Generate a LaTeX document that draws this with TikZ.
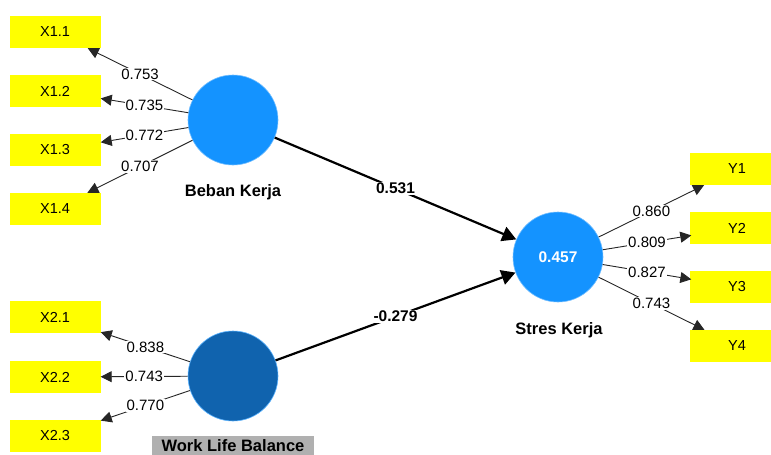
\documentclass[tikz,border=0pt]{standalone}
\usepackage{fontspec}
\setmainfont{Liberation Sans}
\usetikzlibrary{arrows.meta}
\definecolor{lv}{RGB}{20,147,255}
\definecolor{dv}{RGB}{16,99,174}
\definecolor{ybox}{RGB}{255,255,0}
\definecolor{gbox}{RGB}{176,176,176}
\tikzset{
  ind/.style={fill=ybox, draw=none, minimum width=91pt, minimum height=32pt, inner sep=0pt, font=\fontsize{14.5}{14.5}\selectfont},
  lvar/.style={circle, fill=lv, draw=lv!60, line width=0.6pt, minimum size=90pt, inner sep=0pt},
  dvar/.style={circle, fill=dv, draw=lv!70, line width=0.6pt, minimum size=90pt, inner sep=0pt},
  outer/.style={draw=black!85, line width=0.9pt, -{Triangle[length=11pt,width=11pt]}},
  inner/.style={draw=black, line width=2.2pt, -{Triangle[length=14pt,width=15pt]}},
  wlab/.style={fill=white, inner sep=1pt, font=\fontsize{15}{15}\selectfont},
  blab/.style={fill=white, inner sep=1pt, font=\fontsize{15.5}{15.5}\selectfont\bfseries},
  cname/.style={font=\fontsize{16.5}{16.5}\selectfont\bfseries}
}
\begin{document}
\begin{tikzpicture}[x=1pt,y=-1pt]
\useasboundingbox (0,0) rectangle (771,455);
% indicator boxes
\node[ind] (x11) at (55,32) {X1.1};
\node[ind] (x12) at (55,91) {X1.2};
\node[ind] (x13) at (55,150) {X1.3};
\node[ind] (x14) at (55,209) {X1.4};
\node[ind] (x21) at (55,317) {X2.1};
\node[ind] (x22) at (55,377) {X2.2};
\node[ind] (x23) at (55,436) {X2.3};
\fill[ybox] (690,153) rectangle (771,185);
\fill[ybox] (690,212) rectangle (771,244);
\fill[ybox] (690,271) rectangle (771,303);
\fill[ybox] (690,330) rectangle (771,362);
\node[ind] (y1) at (737,169) {Y1};
\node[ind] (y2) at (737,228) {Y2};
\node[ind] (y3) at (737,287) {Y3};
\node[ind] (y4) at (737,346) {Y4};
% latent variables
\node[lvar] (bk) at (233,120) {};
\node[dvar] (wlb) at (233,376) {};
\node[lvar] (sk) at (558,257) {\textcolor{white}{\fontsize{15.5}{15.5}\selectfont\bfseries 0.457}};
\node[cname] (bkl) at (233,192) {Beban Kerja};
\node[cname, fill=gbox, inner sep=0pt, minimum width=162pt, minimum height=21pt] (wlbl) at (233,446) {Work Life Balance};
\node[cname] (skl) at (559,330) {Stres Kerja};
% outer loadings
\draw[outer] (bk) -- node[wlab] {0.753} (x11);
\draw[outer] (bk) -- node[wlab] {0.735} (x12);
\draw[outer] (bk) -- node[wlab] {0.772} (x13);
\draw[outer] (bk) -- node[wlab] {0.707} (x14);
\draw[outer] (wlb) -- node[wlab] {0.838} (x21);
\draw[outer] (wlb) -- node[wlab] {0.743} (x22);
\draw[outer] (wlb) -- node[wlab] {0.770} (x23);
\draw[outer] (sk) -- node[wlab] {0.860} (y1);
\draw[outer] (sk) -- node[wlab] {0.809} (y2);
\draw[outer] (sk) -- node[wlab] {0.827} (y3);
\draw[outer] (sk) -- node[wlab] {0.743} (y4);
% inner paths
\draw[inner] (bk) -- node[blab] {0.531} (sk);
\draw[inner] (wlb) -- node[blab] {-0.279} (sk);
\end{tikzpicture}
\end{document}
